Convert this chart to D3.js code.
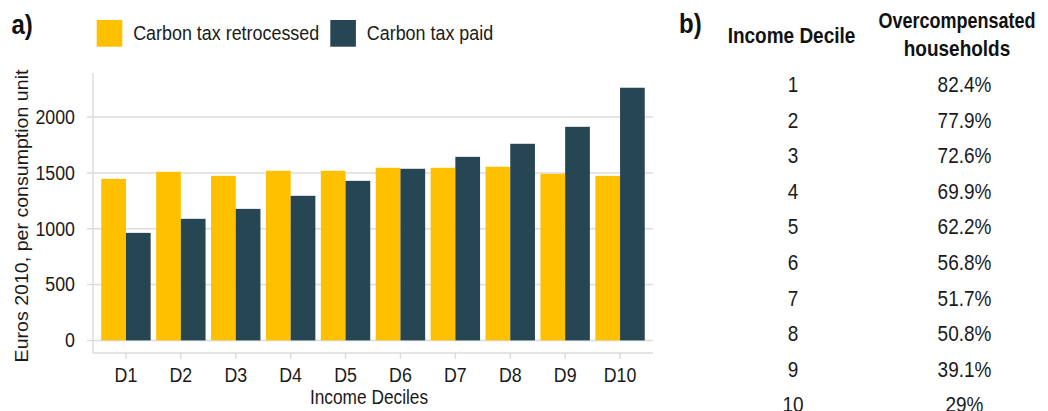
<!DOCTYPE html>
<html>
<head>
<meta charset="utf-8">
<script src="https://cdn.jsdelivr.net/npm/d3@7"></script>
<style>
  html, body { margin: 0; padding: 0; background: #fff; }
  svg { display: block; font-family: "Liberation Sans", Arial, sans-serif; }
</style>
</head>
<body>
<svg id="chart" width="1048" height="411"></svg>
<script>
const deciles = ["D1","D2","D3","D4","D5","D6","D7","D8","D9","D10"];
const retrocessed = [1447, 1510, 1474, 1519, 1519, 1546, 1546, 1555, 1492, 1474];
const paid = [963, 1089, 1178, 1295, 1429, 1537, 1644, 1761, 1913, 2263];
const yTicks = [0, 500, 1000, 1500, 2000];
const seriesNames = ["Carbon tax retrocessed", "Carbon tax paid"];
const seriesColors = ["#FFC000", "#264653"];
const tableDeciles = ["1","2","3","4","5","6","7","8","9","10"];
const overcompensated = ["82.4%","77.9%","72.6%","69.9%","62.2%","56.8%","51.7%","50.8%","39.1%","29%"];

(function () {
const svg = d3.select("#chart");
const grid = "#dcdcdc";
const ink = "#1a1a1a";
const fs = 17.5;
const sy = 1.12; // vertical stretch of the reference's text

const pL = 93, pR = 653, pT = 73, pB = 353;

const x = d3.scalePoint().domain(deciles).range([pL, pR]).padding(0.6);
const step = x.step();
const y = d3.scaleLinear().domain([-113, 2395]).range([pB, pT]);

function txt(parent, tx, ty, s, opts) {
  const o = Object.assign({ size: fs, anchor: "start", weight: "normal", rot: 0, fill: ink }, opts || {});
  const t = parent.append("text")
    .attr("transform", `translate(${tx},${ty}) scale(1,${sy})` + (o.rot ? ` rotate(${o.rot})` : ""))
    .attr("text-anchor", o.anchor).attr("font-size", o.size).attr("font-weight", o.weight)
    .attr("fill", o.fill).text(s);
  if (o.len) t.attr("textLength", o.len).attr("lengthAdjust", "spacingAndGlyphs");
  return t;
}

const g = svg.append("g");
g.selectAll("line.grid").data(yTicks).join("line")
  .attr("x1", pL - 6).attr("x2", pR)
  .attr("y1", d => y(d)).attr("y2", d => y(d))
  .attr("stroke", grid).attr("stroke-width", 1.5);

g.append("line").attr("x1", pL).attr("x2", pL).attr("y1", pT).attr("y2", pB)
  .attr("stroke", grid).attr("stroke-width", 1.5);
g.append("line").attr("x1", pL).attr("x2", pR).attr("y1", pB).attr("y2", pB)
  .attr("stroke", grid).attr("stroke-width", 1.5);

g.selectAll("line.xt").data(deciles).join("line")
  .attr("x1", d => x(d)).attr("x2", d => x(d))
  .attr("y1", pB).attr("y2", pB + 6)
  .attr("stroke", grid).attr("stroke-width", 1.5);

yTicks.forEach(v => txt(g, pL - 18, y(v) + 6.8, String(v), { anchor: "end", size: 17.8 }));
deciles.forEach(d => txt(g, x(d), 381.5, d, { anchor: "middle", size: 17.8 }));

const bw = step * 0.45;
const bars = svg.append("g");
bars.selectAll("rect.r").data(deciles).join("rect")
  .attr("x", d => x(d) - bw).attr("width", bw)
  .attr("y", (d, i) => y(retrocessed[i])).attr("height", (d, i) => y(0) - y(retrocessed[i]))
  .attr("fill", seriesColors[0]);
bars.selectAll("rect.p").data(deciles).join("rect")
  .attr("x", d => x(d)).attr("width", bw)
  .attr("y", (d, i) => y(paid[i])).attr("height", (d, i) => y(0) - y(paid[i]))
  .attr("fill", seriesColors[1]);

txt(svg, 369, 404, "Income Deciles", { anchor: "middle", size: 17.3 });
svg.append("text")
  .attr("transform", `translate(27.5,216) scale(1,${sy}) rotate(-90)`)
  .attr("text-anchor", "middle").attr("font-size", 17.5).attr("fill", ink)
  .text("Euros 2010, per consumption unit");

const legX = [96.7, 330.3];
seriesNames.forEach((n, i) => {
  svg.append("rect").attr("x", legX[i]).attr("y", 20).attr("width", 25.6).attr("height", 26.7)
    .attr("fill", seriesColors[i]);
  txt(svg, legX[i] + 36.5, 40.2, n, { size: 17.9 });
});

txt(svg, 11.5, 34, "a)", { size: 24, weight: "bold", fill: "#111" });
txt(svg, 679, 33, "b)", { size: 24, weight: "bold", fill: "#111" });

const col1 = 793, col2 = 964.5;
txt(svg, 791.5, 43, "Income Decile", { anchor: "middle", size: 19, weight: "bold", fill: "#111" });
txt(svg, 957, 28, "Overcompensated", { anchor: "middle", size: 19, weight: "bold", fill: "#111", len: 157 });
txt(svg, 957, 56, "households", { anchor: "middle", size: 19, weight: "bold", fill: "#111" });

const rowY = d3.scaleLinear().domain([0, 1]).range([92, 127.6]);
tableDeciles.forEach((d, i) => txt(svg, col1, rowY(i), d, { anchor: "middle", size: 19 }));
overcompensated.forEach((d, i) => txt(svg, col2, rowY(i), d, { anchor: "middle", size: 19 }));
})();
</script>
</body>
</html>
